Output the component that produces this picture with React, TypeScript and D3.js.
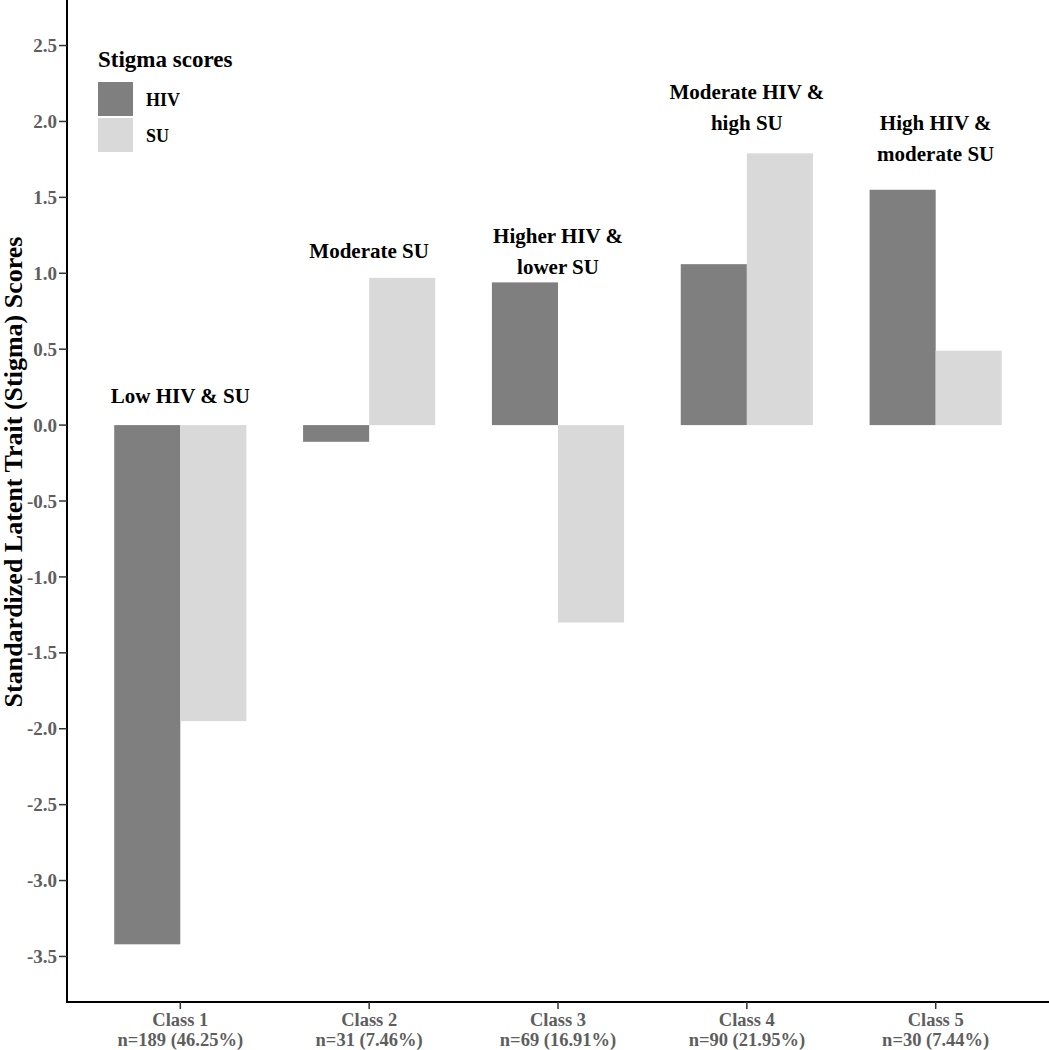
import * as d3 from 'd3';

const classes = ['Class 1', 'Class 2', 'Class 3', 'Class 4', 'Class 5'];
const classSizes = ['n=189 (46.25%)', 'n=31 (7.46%)', 'n=69 (16.91%)', 'n=90 (21.95%)', 'n=30 (7.44%)'];
const series = ['HIV', 'SU'];
const hivScores = [-3.42, -0.11, 0.94, 1.06, 1.55];
const suScores = [-1.95, 0.97, -1.3, 1.79, 0.49];
const classLabels = [
  ['Low HIV & SU'],
  ['Moderate SU'],
  ['Higher HIV &', 'lower SU'],
  ['Moderate HIV &', 'high SU'],
  ['High HIV &', 'moderate SU'],
];
// y value of the first label line's baseline
const labelAt = [0.146, 1.1, 1.2, 2.15, 1.945];
const yTicks = [-3.5, -3, -2.5, -2, -1.5, -1, -0.5, 0, 0.5, 1, 1.5, 2, 2.5];

const W = 1049;
const H = 1050;
const FONT = '"Liberation Serif", "Times New Roman", serif';
const COLORS: Record<string, string> = { HIV: '#7f7f7f', SU: '#d9d9d9' };

export default function App() {
  const left = 67;
  const bottom = 1002;

  const x = d3.scaleBand<string>().domain(classes).range([left, W]).paddingInner(0).paddingOuter(0.1);
  const step = x.bandwidth();
  const xs = d3.scaleBand<string>().domain(series).range([step * 0.15, step * 0.85]);
  const y = d3.scaleLinear().domain([-3.8, 2.8]).range([bottom, 0]);

  const rows = classes.flatMap((c, i) => [
    { cls: c, key: 'HIV', value: hivScores[i] },
    { cls: c, key: 'SU', value: suScores[i] },
  ]);

  return (
    <svg width={W} height={H} style={{ position: 'absolute', left: 0, top: 0, background: '#fff' }} fontFamily={FONT}>
      {/* bars */}
      {rows.map((d) => (
        <rect
          key={d.cls + d.key}
          x={x(d.cls)! + xs(d.key)!}
          width={xs.bandwidth()}
          y={y(Math.max(0, d.value))}
          height={Math.abs(y(d.value) - y(0))}
          fill={COLORS[d.key]}
        />
      ))}

      {/* class annotations */}
      {classes.map((c, i) => (
        <text key={c} x={x(c)! + step / 2} y={y(labelAt[i])} textAnchor="middle" fontSize={21} fontWeight="bold" fill="#000">
          {classLabels[i].map((line, j) => (
            <tspan key={j} x={x(c)! + step / 2} dy={j === 0 ? 0 : 31}>{line}</tspan>
          ))}
        </text>
      ))}

      {/* y axis */}
      <line x1={left} x2={left} y1={0} y2={bottom + 1} stroke="#000" strokeWidth={2} />
      {yTicks.map((t) => (
        <g key={t} transform={`translate(0,${y(t)})`}>
          <line x1={left - 8} x2={left} stroke="#333" strokeWidth={1.5} />
          <text x={left - 10} dy="0.35em" textAnchor="end" fontSize={19} fontWeight="bold" fill="#5e5e5e">
            {t.toFixed(1)}
          </text>
        </g>
      ))}
      <text
        transform={`translate(22,472) rotate(-90)`}
        textAnchor="middle"
        fontSize={26}
        fontWeight="bold"
        fill="#000"
      >
        Standardized Latent Trait (Stigma) Scores
      </text>

      {/* x axis */}
      <line x1={left - 1} x2={W} y1={bottom} y2={bottom} stroke="#000" strokeWidth={2} />
      {classes.map((c, i) => {
        const cx = x(c)! + step / 2;
        return (
          <g key={c}>
            <line x1={cx} x2={cx} y1={bottom} y2={bottom + 7} stroke="#333" strokeWidth={1.5} />
            <text x={cx} y={1026} textAnchor="middle" fontSize={18.5} fontWeight="bold" fill="#5e5e5e">{c}</text>
            <text x={cx} y={1046} textAnchor="middle" fontSize={18.5} fontWeight="bold" fill="#5e5e5e">{classSizes[i]}</text>
          </g>
        );
      })}

      {/* legend */}
      <text x={98} y={67} fontSize={23} fontWeight="bold" fill="#000">Stigma scores</text>
      {series.map((s, i) => (
        <g key={s} transform={`translate(98,${82 + i * 36})`}>
          <rect width={35} height={34} fill={COLORS[s]} />
          <text x={48} y={24} fontSize={18} fontWeight="bold" fill="#000">{s}</text>
        </g>
      ))}
    </svg>
  );
}
